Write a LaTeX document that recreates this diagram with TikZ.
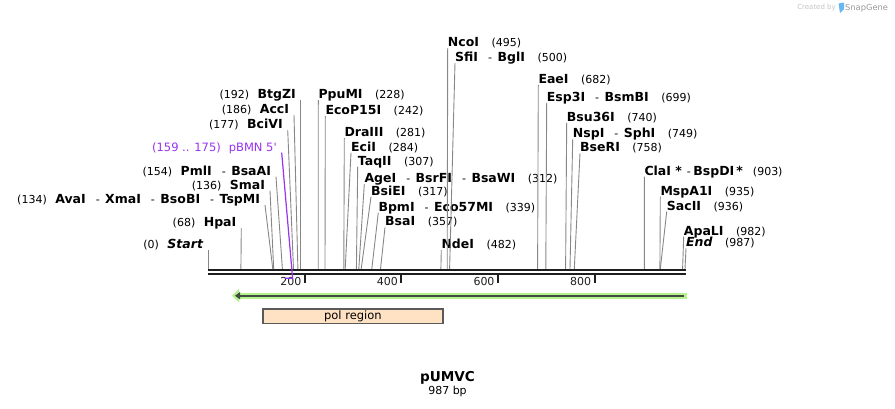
\documentclass[tikz,border=0pt]{standalone}
\usepackage{fontspec}
\setmainfont{DejaVu Sans}
\usetikzlibrary{arrows.meta}
\definecolor{cutgray}{RGB}{135,135,135}
\definecolor{rulerblack}{RGB}{30,30,30}
\definecolor{pbmnpurple}{RGB}{150,50,240}
\definecolor{orfgreen}{RGB}{180,242,140}
\definecolor{orfdark}{RGB}{65,75,65}
\definecolor{polfill}{RGB}{255,226,196}
\definecolor{polline}{RGB}{90,90,90}
\definecolor{markgray}{RGB}{195,195,195}
\definecolor{markblue}{RGB}{100,185,240}

\newcommand{\enz}[1]{{\fontsize{12.5}{14}\selectfont\bfseries #1}}
\newcommand{\loc}[1]{{\fontsize{11}{14}\selectfont(#1)}}
\newcommand{\esep}{\hspace{10pt}{\fontsize{11}{14}\selectfont-}\hspace{5.5pt}}
\newcommand{\rlab}[2]{\enz{#1}\hspace{12.5pt}\loc{#2}}
\newcommand{\llab}[2]{\loc{#1}\hspace{8.5pt}\enz{#2}}

\begin{document}
\begin{tikzpicture}[x=1pt,y=-1pt,
	rs/.style={anchor=south west,inner sep=0pt,text depth=1.5pt},
	ls/.style={anchor=south east,inner sep=0pt,outer xsep=5pt,text depth=1.5pt},
	cut/.style={draw=cutgray,line width=0.9pt},
	ruler/.style={draw=rulerblack,line width=2pt},
	tickmark/.style={draw=rulerblack,line width=2pt},
	ticklabel/.style={anchor=east,inner sep=0pt,font=\fontsize{11}{13}\selectfont,text=rulerblack},
	orfout/.style={draw=orfgreen,line width=6pt,line cap=rect,-{Triangle[length=7pt,width=13pt]}},
	orfin/.style={draw=orfdark,line width=2pt,shorten >=3pt,-{Triangle[length=5pt,width=7pt]}},
	polbox/.style={draw=polline,line width=1.5pt,fill=polfill,minimum width=180pt,minimum height=14.5pt,inner sep=0pt,font=\fontsize{11.5}{13}\selectfont}
]
	\useasboundingbox (0,0) rectangle (895,408);

	% cut sites on the ruler
	\coordinate (r0) at (208,269);
	\coordinate (r68) at (240.9,269);
	\coordinate (r134) at (272.8,269);
	\coordinate (r136) at (273.7,269);
	\coordinate (r154) at (282.4,269);
	\coordinate (r177) at (293.5,269);
	\coordinate (r186) at (297.9,269);
	\coordinate (r192) at (300.8,269);
	\coordinate (r228) at (318.2,269);
	\coordinate (r242) at (325.0,269);
	\coordinate (r281) at (343.8,269);
	\coordinate (r284) at (345.2,269);
	\coordinate (r307) at (356.4,269);
	\coordinate (r312) at (358.8,269);
	\coordinate (r317) at (361.2,269);
	\coordinate (r339) at (371.8,269);
	\coordinate (r357) at (380.5,269);
	\coordinate (r482) at (440.9,269);
	\coordinate (r495) at (447.2,269);
	\coordinate (r500) at (449.6,269);
	\coordinate (r682) at (537.6,269);
	\coordinate (r699) at (545.8,269);
	\coordinate (r740) at (565.6,269);
	\coordinate (r749) at (570.0,269);
	\coordinate (r758) at (574.3,269);
	\coordinate (r903) at (644.4,269);
	\coordinate (r935) at (659.9,269);
	\coordinate (r936) at (660.3,269);
	\coordinate (r982) at (682.6,269);
	\coordinate (r987) at (685.0,269);

	% labels right of their line
	\node[rs] (ncoi) at (447.7,48) {\rlab{NcoI}{495}};
	\node[rs] (sfii) at (455,63) {\enz{SfiI}\esep\enz{BglI}\hspace{12.5pt}\loc{500}};
	\node[rs] (eaei) at (538.3,85) {\rlab{EaeI}{682}};
	\node[rs] (esp3i) at (546.7,102.7) {\enz{Esp3I}\esep\enz{BsmBI}\hspace{12.5pt}\loc{699}};
	\node[rs] (bsu36i) at (566.7,122.7) {\rlab{Bsu36I}{740}};
	\node[rs] (nspi) at (572.7,139.3) {\enz{NspI}\esep\enz{SphI}\hspace{12.5pt}\loc{749}};
	\node[rs] (bseri) at (580,153.3) {\rlab{BseRI}{758}};
	\node[rs] (clai) at (644.3,176.7) {\enz{ClaI *}\hspace{5pt}{\fontsize{11}{14}\selectfont-}\hspace{2.5pt}\enz{BspDI\,*}\hspace{10pt}\loc{903}};
	\node[rs] (mspa1i) at (660.3,196.7) {\rlab{MspA1I}{935}};
	\node[rs] (sacii) at (666.7,211.7) {\rlab{SacII}{936}};
	\node[rs] (apali) at (683.7,236.7) {\rlab{ApaLI}{982}};
	\node[rs] (end) at (686,248.3) {\rlab{\itshape End}{987}};
	\node[rs] (ppumi) at (318.3,100) {\rlab{PpuMI}{228}};
	\node[rs] (ecop15i) at (325.3,116) {\rlab{EcoP15I}{242}};
	\node[rs] (draiii) at (344.3,138) {\rlab{DraIII}{281}};
	\node[rs] (ecii) at (351,152.7) {\rlab{EciI}{284}};
	\node[rs] (taqii) at (357.7,166.7) {\rlab{TaqII}{307}};
	\node[rs] (agei) at (364.3,184) {\enz{AgeI}\esep\enz{BsrFI}\esep\enz{BsaWI}\hspace{12.5pt}\loc{312}};
	\node[rs] (bsiei) at (371,196.7) {\rlab{BsiEI}{317}};
	\node[rs] (bpmi) at (378.3,212.7) {\enz{BpmI}\esep\enz{Eco57MI}\hspace{12.5pt}\loc{339}};
	\node[rs] (bsai) at (385,227.3) {\rlab{BsaI}{357}};
	\node[rs] (ndei) at (441.3,250) {\rlab{NdeI}{482}};

	% labels left of their line
	\node[ls] (btgzi) at (300.8,100) {\llab{192}{BtgZI}};
	\node[ls] (acci) at (294,115) {\llab{186}{AccI}};
	\node[ls] (bcivi) at (287.7,130) {\llab{177}{BciVI}};
	\node[ls,text=pbmnpurple,font=\fontsize{11.5}{14}\selectfont] (pbmn) at (281.7,152.7) {(159 .. 175)\hspace{8pt}pBMN 5\textquotesingle};
	\node[ls] (pmli) at (276,176.7) {\loc{154}\hspace{8.5pt}\enz{PmlI}\esep\enz{BsaAI}};
	\node[ls] (smai) at (270,190.7) {\llab{136}{SmaI}};
	\node[ls] (avai) at (265,205) {\loc{134}\hspace{8.5pt}\enz{AvaI}\esep\enz{XmaI}\esep\enz{BsoBI}\esep\enz{TspMI}};
	\node[ls] (hpai) at (241.3,228) {\llab{68}{HpaI}};
	\node[ls] (start) at (208,250) {\llab{0}{\itshape Start}};

	\draw[cut] (ncoi.south west) -- (r495);
	\draw[cut] (sfii.south west) -- (r500);
	\draw[cut] (eaei.south west) -- (r682);
	\draw[cut] (esp3i.south west) -- (r699);
	\draw[cut] (bsu36i.south west) -- (r740);
	\draw[cut] (nspi.south west) -- (r749);
	\draw[cut] (bseri.south west) -- (r758);
	\draw[cut] (clai.south west) -- (r903);
	\draw[cut] (mspa1i.south west) -- (r935);
	\draw[cut] (sacii.south west) -- (r936);
	\draw[cut] (apali.south west) -- (r982);
	\draw[cut] (end.south west) -- (r987);
	\draw[cut] (ppumi.south west) -- (r228);
	\draw[cut] (ecop15i.south west) -- (r242);
	\draw[cut] (draiii.south west) -- (r281);
	\draw[cut] (ecii.south west) -- (r284);
	\draw[cut] (taqii.south west) -- (r307);
	\draw[cut] (agei.south west) -- (r312);
	\draw[cut] (bsiei.south west) -- (r317);
	\draw[cut] (bpmi.south west) -- (r339);
	\draw[cut] (bsai.south west) -- (r357);
	\draw[cut] (ndei.south west) -- (r482);
	\draw[cut] (btgzi.south east) -- (r192);
	\draw[cut] (acci.south east) -- (r186);
	\draw[cut] (bcivi.south east) -- (r177);
	\draw[cut] (pmli.south east) -- (r154);
	\draw[cut] (smai.south east) -- (r136);
	\draw[cut] (avai.south east) -- (r134);
	\draw[cut] (hpai.south east) -- (r68);
	\draw[cut] (start.south east) -- (r0);

	% the sequence ruler
	\draw[ruler] (208,269.5) -- (685.5,269.5);
	\draw[ruler] (208,273.7) -- (685.5,273.7);
	\coordinate (t200) at (304.7,274.5);
	\coordinate (t400) at (401.3,274.5);
	\coordinate (t600) at (498.0,274.5);
	\coordinate (t800) at (594.7,274.5);
	\draw[tickmark] (t200) -- ++(0,8);
	\draw[tickmark] (t400) -- ++(0,8);
	\draw[tickmark] (t600) -- ++(0,8);
	\draw[tickmark] (t800) -- ++(0,8);
	\node[ticklabel] (l200) at (301.5,281.5) {200};
	\node[ticklabel] (l400) at (398,281.5) {400};
	\node[ticklabel] (l600) at (494.7,281.5) {600};
	\node[ticklabel] (l800) at (591.4,281.5) {800};

	% pBMN 5' primer site
	\coordinate (f175) at (292.6,278.3);
	\coordinate (f159) at (284.8,278.3);
	\draw[draw=pbmnpurple,line width=1.2pt] (pbmn.south east) -- (f175) -- (f159);

	% features
	\coordinate (o987) at (684,295.7);
	\coordinate (o50) at (232,295.7);
	\draw[orfout] (o987) -- (o50);
	\draw[orfin] (o987) -- (o50);
	\node[polbox] (pol) at (352.9,316) {pol region};

	\node[font=\fontsize{13.6}{16}\selectfont\bfseries] (title) at (447.5,377.5) {pUMVC};
	\node[font=\fontsize{11}{13}\selectfont] (size) at (447.5,391) {987 bp};

	\node[anchor=east,inner sep=0pt,text=markgray,font=\fontsize{7}{9}\selectfont] (created) at (836,8) {Created by};
	\fill[markblue] (838.5,3.5) -- (844,2.5) -- (844,9) -- (840,13) -- cycle;
	\node[anchor=west,inner sep=0pt,text=gray!80,font=\fontsize{8.3}{10}\selectfont] (snapgene) at (845,8) {SnapGene};
\end{tikzpicture}
\end{document}
